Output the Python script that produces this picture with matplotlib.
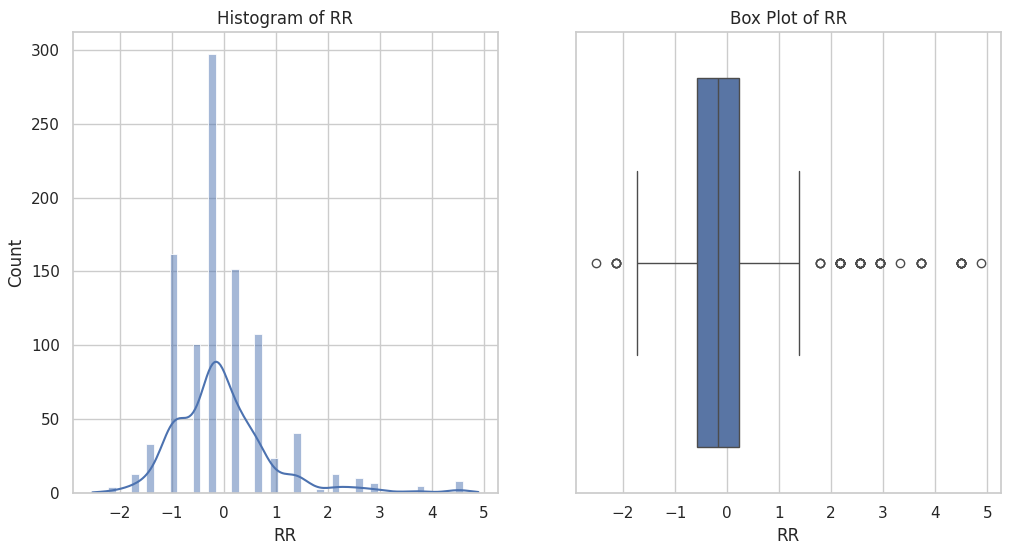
import numpy as np
import matplotlib
matplotlib.use("Agg")
import matplotlib.pyplot as plt
import seaborn as sns

sns.set_theme(style="whitegrid")

# RR values (discrete) and their counts
rr_values = [-2.53, -2.14, -1.74, -1.36, -0.96, -0.57, -0.18, 0.22, 0.61,
             1.00, 1.39, 1.78, 2.17, 2.56, 2.94, 3.33, 3.72, 4.50, 4.89]
rr_counts = [1, 4, 13, 33, 162, 101, 297, 152, 108,
             24, 41, 3, 13, 10, 7, 1, 5, 8, 1]

rr = np.repeat(rr_values, rr_counts)

fig, (ax1, ax2) = plt.subplots(1, 2, figsize=(10.15, 5.56), dpi=100)
fig.subplots_adjust(left=0.072, right=0.986, top=0.942, bottom=0.113, wspace=0.185)

sns.histplot(rr, bins=50, kde=True, ax=ax1)
ax1.set_title("Histogram of RR")
ax1.set_xlabel("RR")
ax1.set_ylabel("Count")
ax1.set_xticks([-2, -1, 0, 1, 2, 3, 4, 5])

sns.boxplot(x=rr, ax=ax2)
ax2.set_title("Box Plot of RR")
ax2.set_xlabel("RR")
ax2.set_xticks([-2, -1, 0, 1, 2, 3, 4, 5])

fig.savefig("out.png", dpi=100)
